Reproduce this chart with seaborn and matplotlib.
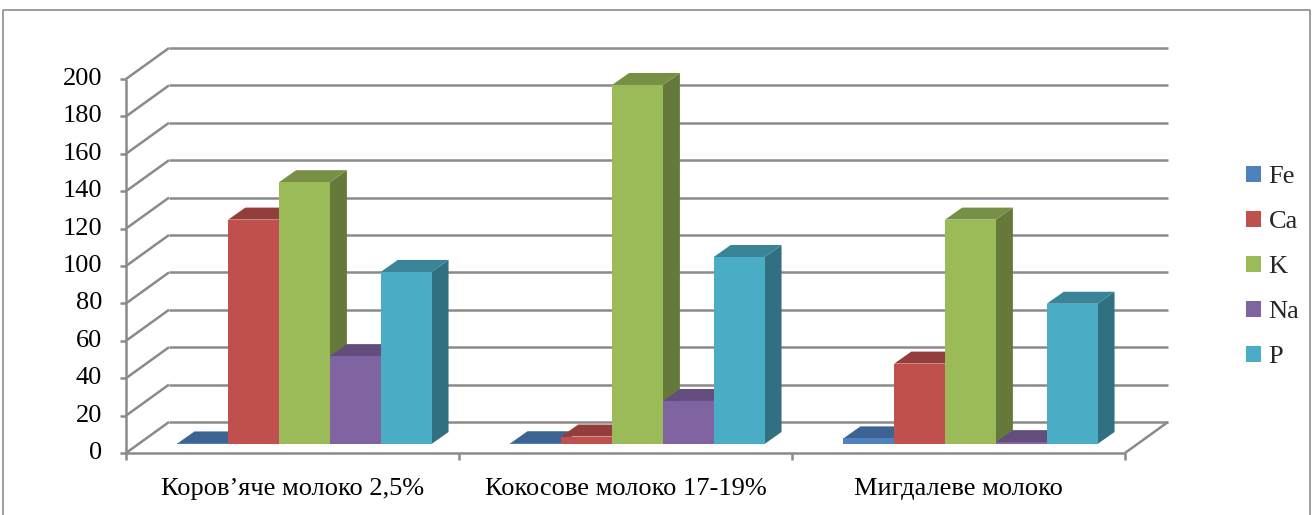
import numpy as np
import pandas as pd
import matplotlib
matplotlib.use("Agg")
import matplotlib.pyplot as plt
from matplotlib.patches import Polygon, Rectangle
from matplotlib.lines import Line2D
import seaborn as sns

# Mineral content of milk types (mg per 100 g)
categories = ["Коров’яче молоко 2,5%", "Кокосове молоко 17-19%", "Мигдалеве молоко"]
elements = ["Fe", "Ca", "K", "Na", "P"]
fe = [0.3, 0.4, 3]
ca = [120, 4, 43]
k = [140, 192, 120]
na = [47, 23, 1]
p = [92, 100, 75]
y_ticks = list(range(0, 201, 20))

colors = ["#4F81BD", "#C0504D", "#9BBB59", "#8064A2", "#4BACC6"]
grid_color = "#8a8a8a"

sns.set_theme(style="white")
plt.rcParams["font.family"] = ["Liberation Serif", "DejaVu Serif"]

W, H, DPI = 1314, 515, 100
fig = plt.figure(figsize=(W / DPI, H / DPI), dpi=DPI)
fig.patch.set_facecolor("white")
ax = fig.add_axes([138 / W, 71 / H, 999 / W, 374 / H])

series = {"Fe": fe, "Ca": ca, "K": k, "Na": na, "P": p}
df = pd.DataFrame(
    [(c, e, series[e][i]) for e in elements for i, c in enumerate(categories)],
    columns=["category", "element", "value"],
)
sns.barplot(
    data=df, x="category", y="value", hue="element",
    order=categories, hue_order=elements, palette=colors,
    saturation=1, width=0.763, dodge=True, legend=False,
    linewidth=0, ax=ax,
)
ax.set_xlim(-0.5, 2.5)
ax.set_ylim(0, 200)
ax.axis("off")

# pixel -> data conversion for the oblique projection
sx = 999 / 3.0
sy = 374 / 200.0


def off(dx, dy):
    return dx / sx, dy / sy


fx, fy = off(-12, -9)   # front plane (axis plane)
bx, by = off(31, 22)    # back wall plane
ddx, ddy = off(17, 12)  # bar depth

line_kw = dict(color=grid_color, lw=1.8, clip_on=False, zorder=1,
               solid_capstyle="butt")

# back wall gridlines and left wall diagonals
for v in y_ticks:
    ax.add_line(Line2D([-0.5 + bx, 2.5 + bx], [v + by, v + by], **line_kw))
    ax.add_line(Line2D([-0.5 + fx, -0.5 + bx], [v + fy, v + by], **line_kw))
    # tick marks on the front vertical axis
    ax.add_line(Line2D([-0.5 + fx - 6 / sx, -0.5 + fx], [v + fy, v + fy], **line_kw))
    ax.text(-0.5 + fx - 24 / sx, v + fy, str(v), ha="right", va="center",
            fontsize=19, color="black", clip_on=False)

# front vertical axis, floor edges and category ticks
ax.add_line(Line2D([-0.5 + fx, -0.5 + fx], [fy, 200 + fy], **line_kw))
ax.add_line(Line2D([-0.5 + fx, 2.5 + fx], [fy, fy], **line_kw))
ax.add_line(Line2D([2.5 + fx, 2.5 + bx], [fy, by], **line_kw))
for xc in [-0.5, 0.5, 1.5, 2.5]:
    ax.add_line(Line2D([xc + fx, xc + fx], [fy, fy - 7 / sy], **line_kw))

for i, c in enumerate(categories):
    ax.text(i + fx, fy - 36 / sy, c, ha="center", va="center",
            fontsize=19, color="black", clip_on=False)


def shade(rgb, f):
    return tuple(min(1, ch * f) for ch in rgb[:3])


# 3D faces for every bar, drawn in left-to-right order
bars = [b for cont in ax.containers for b in cont]
bars.sort(key=lambda b: b.get_x())
for i, b in enumerate(bars):
    x0, w, h = b.get_x(), b.get_width(), b.get_height()
    col = b.get_facecolor()
    z = 10 + 2 * i
    top = Polygon([(x0, h), (x0 + w, h), (x0 + w + ddx, h + ddy), (x0 + ddx, h + ddy)],
                  closed=True, facecolor=shade(col, 0.77), edgecolor="none",
                  clip_on=False, zorder=z)
    side = Polygon([(x0 + w, 0), (x0 + w + ddx, ddy), (x0 + w + ddx, h + ddy), (x0 + w, h)],
                   closed=True, facecolor=shade(col, 0.65), edgecolor="none",
                   clip_on=False, zorder=z)
    ax.add_patch(side)
    ax.add_patch(top)
    b.set_zorder(z + 1)
    b.set_clip_on(False)

# legend
handles = [Rectangle((0, 0), 1, 1, facecolor=c, edgecolor="none") for c in colors]
fig.legend(handles, elements, loc="center left",
           bbox_to_anchor=(1246 / W, 1 - 267 / H), frameon=False, fontsize=19,
           handlelength=0.55, handleheight=0.55, handletextpad=0.3,
           labelspacing=0.86, borderpad=0, borderaxespad=0)

# chart frame
fig.add_artist(Line2D([3 / W, 3 / W, 1310 / W, 1310 / W], [0, 1 - 10 / H, 1 - 10 / H, 0],
                      transform=fig.transFigure, color="#8c8c8c", lw=1.2))

fig.savefig("out.png", dpi=DPI)
